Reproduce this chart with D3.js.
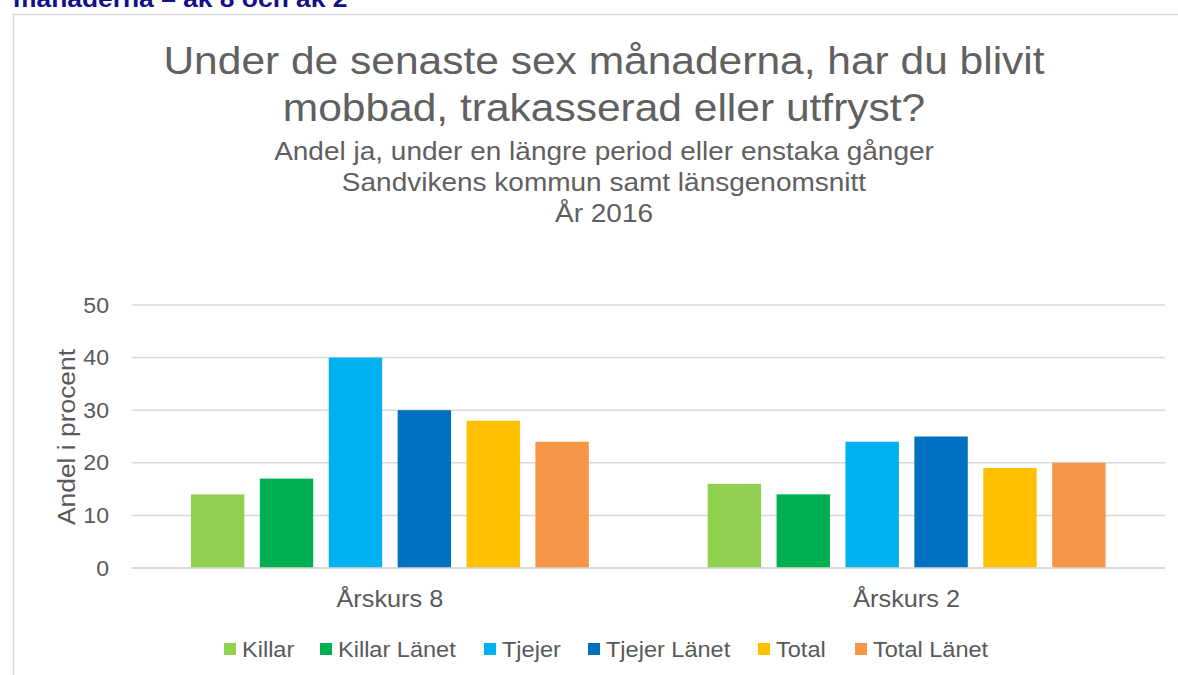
<!DOCTYPE html>
<html>
<head>
<meta charset="utf-8">
<script src="https://cdn.jsdelivr.net/npm/d3@7"></script>
<style>
  html, body { margin: 0; padding: 0; background: #fff; }
  svg { display: block; font-family: "Liberation Sans", Arial, sans-serif; }
</style>
</head>
<body>
<svg id="chart" width="1178" height="675"></svg>
<script>
const categories = ["Årskurs 8", "Årskurs 2"];
const seriesNames = ["Killar", "Killar Länet", "Tjejer", "Tjejer Länet", "Total", "Total Länet"];
const seriesColors = ["#92D050", "#00B050", "#00B0F0", "#0070C0", "#FFC000", "#F79646"];
const killar = [14, 16];
const killarLanet = [17, 14];
const tjejer = [40, 24];
const tjejerLanet = [30, 25];
const total = [28, 19];
const totalLanet = [24, 20];
const yTicks = [0, 10, 20, 30, 40, 50];
const headingText = "månaderna – åk 8 och åk 2";
const titleLines = ["Under de senaste sex månaderna, har du blivit", "mobbad, trakasserad eller utfryst?"];
const subtitleLines = ["Andel ja, under en längre period eller enstaka gånger", "Sandvikens kommun samt länsgenomsnitt", "År 2016"];
const yAxisTitle = "Andel i procent";

const seriesValues = [killar, killarLanet, tjejer, tjejerLanet, total, totalLanet];

const svg = d3.select("#chart");
const textColor = "#595959";
const gridColor = "#D9D9D9";

// helper: text placed at (x,y), horizontally widened by sx
function addText(parent, x, y, str, opts) {
  const t = parent.append("text")
    .attr("transform", `translate(${x},${y}) scale(${opts.sx || 1},1)`)
    .attr("text-anchor", opts.anchor || "start")
    .attr("font-size", opts.size)
    .attr("fill", opts.fill || textColor)
    .text(str);
  if (opts.weight) t.attr("font-weight", opts.weight);
  return t;
}

// Page heading (cut off at top)
addText(svg, 13, 7, headingText, { size: 24, sx: 1.1, weight: "bold", fill: "#10108a" });

// Chart frame
svg.append("path")
  .attr("d", "M13.5,675 L13.5,14.5 L1178,14.5")
  .attr("fill", "none").attr("stroke", gridColor).attr("stroke-width", 1.5);

// Titles
const cx = 604;
titleLines.forEach((d, i) => addText(svg, cx, 74 + i * 47, d, { size: 39, sx: 1.09, anchor: "middle", fill: "#606060" }));
subtitleLines.forEach((d, i) => addText(svg, cx, 160 + i * 31, d, { size: 25, sx: 1.12, anchor: "middle", fill: "#606060" }));

// Scales
const plot = { left: 131.5, right: 1165, top: 305, bottom: 568 };
const y = d3.scaleLinear().domain([0, 50]).range([plot.bottom, plot.top]);
const x0 = d3.scaleBand().domain(categories).range([plot.left, plot.right])
  .paddingInner(0.23).paddingOuter(0.115);
const x1 = d3.scaleBand().domain(seriesNames).range([0, x0.bandwidth()])
  .paddingInner(0.225).paddingOuter(0);

// Gridlines
svg.append("g").selectAll("line").data(yTicks).enter().append("line")
  .attr("x1", plot.left).attr("x2", plot.right)
  .attr("y1", d => y(d)).attr("y2", d => y(d))
  .attr("stroke", gridColor).attr("stroke-width", 1.5);

// Y axis labels via d3 axis
const yAxis = d3.axisLeft(y).tickValues(yTicks).tickSize(0).tickPadding(0);
const gy = svg.append("g").attr("transform", `translate(109,0)`).call(yAxis);
gy.select(".domain").remove();
gy.selectAll("text").attr("font-size", 22).attr("fill", textColor)
  .attr("font-family", "Liberation Sans, Arial, sans-serif")
  .attr("transform", "scale(1.05,1)");

// Y axis title
svg.append("text")
  .attr("transform", `translate(75,${(349 + 525) / 2}) rotate(-90) scale(1.1,1)`)
  .attr("text-anchor", "middle").attr("font-size", 24).attr("fill", textColor)
  .text(yAxisTitle);

// Bars
const groups = svg.append("g").selectAll("g").data(categories).enter().append("g")
  .attr("transform", d => `translate(${x0(d)},0)`);
groups.selectAll("rect")
  .data((c, ci) => seriesNames.map((s, si) => ({ s, si, v: seriesValues[si][ci] })))
  .enter().append("rect")
  .attr("x", d => x1(d.s))
  .attr("y", d => y(d.v))
  .attr("width", x1.bandwidth())
  .attr("height", d => y(0) - y(d.v))
  .attr("fill", d => seriesColors[d.si]);

// Redraw baseline on top
svg.append("line")
  .attr("x1", plot.left).attr("x2", plot.right)
  .attr("y1", y(0)).attr("y2", y(0))
  .attr("stroke", gridColor).attr("stroke-width", 1.5);

// Category axis
const xAxis = d3.axisBottom(x0).tickSize(0).tickPadding(0);
const gx = svg.append("g").attr("transform", `translate(0,${plot.bottom + 39})`).call(xAxis);
gx.select(".domain").remove();
gx.selectAll("text").attr("font-size", 23).attr("fill", textColor).attr("dy", 0)
  .attr("font-family", "Liberation Sans, Arial, sans-serif")
  .attr("transform", "scale(1.1,1)");

// Legend
const legendX = [224, 320, 484, 588, 758, 855];
const legend = svg.append("g").selectAll("g").data(seriesNames).enter().append("g")
  .attr("transform", (d, i) => `translate(${legendX[i]},643)`);
legend.append("rect").attr("width", 12).attr("height", 12)
  .attr("fill", (d, i) => seriesColors[i]);
legend.append("text")
  .attr("transform", "translate(18,14) scale(1.07,1)")
  .attr("font-size", 22).attr("fill", textColor).text(d => d);
</script>
</body>
</html>
